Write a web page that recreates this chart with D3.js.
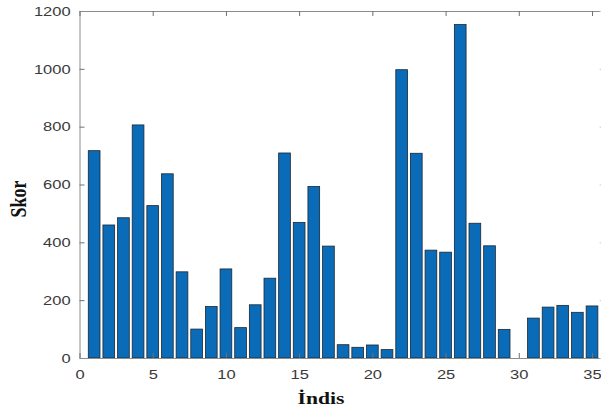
<!DOCTYPE html>
<html>
<head>
<meta charset="utf-8">
<script src="https://cdn.jsdelivr.net/npm/d3@7"></script>
<style>
  body { margin: 0; background: #fff; overflow: hidden; }
  svg { display: block; }
</style>
</head>
<body>
<div id="chart"></div>
<script>
// bar indices and the score
const indices = d3.range(1, 36);
const scores = [
  717, 460, 485, 806, 527, 637, 298, 100, 178, 308,
  105, 184, 276, 709, 469, 593, 387, 46, 37, 45,
  29, 997, 708, 373, 366, 1153, 466, 388, 99, 0,
  138, 176, 182, 158, 180
];
const yTicks = [0, 200, 400, 600, 800, 1000, 1200];
const xTicks = [0, 5, 10, 15, 20, 25, 30, 35];

const WIDTH = 601, HEIGHT = 415;
const STRETCH = 1.27; // the source picture is stretched sideways

const svg = d3.select("#chart").append("svg")
  .attr("width", WIDTH)
  .attr("height", HEIGHT);

const x = d3.scaleLinear().domain([0, 36]).range([79.5, 79.5 + 36 * 14.643]);
const y = d3.scaleLinear().domain([0, 1200]).range([358, 11]);

// bars
const barW = x(0.8) - x(0);
svg.append("g")
  .selectAll("rect")
  .data(indices)
  .enter()
  .append("rect")
  .attr("x", (d) => x(d) - barW / 2)
  .attr("y", (d, i) => y(scores[i]))
  .attr("width", barW)
  .attr("height", (d, i) => y(0) - y(scores[i]))
  .attr("fill", "#0a6cb8")
  .attr("stroke", "#1c2630")
  .attr("stroke-width", 0.8);

function styleAxis(g) {
  g.select(".domain").attr("stroke", "#8c8c8c").attr("stroke-width", 1);
  g.selectAll(".tick line").attr("stroke", "#707070");
  g.selectAll(".tick text")
    .attr("fill", "#3a3a3a")
    .style("font-family", "'Liberation Sans', Arial, sans-serif")
    .style("font-size", "13px");
}

// left axis, ticks pointing inward
const left = svg.append("g")
  .attr("transform", `translate(${x(0)},0)`)
  .call(d3.axisLeft(y).tickValues(yTicks).tickFormat(d3.format("d"))
    .tickSizeInner(-5).tickSizeOuter(0).tickPadding(7))
  .call(styleAxis);
left.selectAll(".tick text")
  .attr("transform", `scale(${STRETCH},1)`);

// bottom axis
const bottom = svg.append("g")
  .attr("transform", `translate(0,${y(0)})`)
  .call(d3.axisBottom(x).tickValues(xTicks).tickFormat(d3.format("d"))
    .tickSizeInner(-5).tickSizeOuter(0).tickPadding(12))
  .call(styleAxis);
bottom.selectAll(".tick text")
  .attr("transform", `scale(${STRETCH},1)`);

// top edge of the box, with ticks but no labels
svg.append("g")
  .attr("transform", `translate(0,${y(1200)})`)
  .call(d3.axisTop(x).tickValues(xTicks).tickSizeInner(-5).tickSizeOuter(0).tickFormat(""))
  .call(styleAxis);

// right edge sits just past the picture; only the tick tips show
svg.append("g")
  .attr("transform", `translate(${x(36)},0)`)
  .call(d3.axisRight(y).tickValues(yTicks).tickSizeInner(-7).tickSizeOuter(0).tickFormat(""))
  .call(styleAxis)
  .call((g) => g.selectAll(".tick line").attr("stroke", "#c8c8c8"));

// axis titles
svg.append("text")
  .attr("transform", `translate(321,404) scale(${STRETCH},1)`)
  .attr("text-anchor", "middle")
  .style("font-family", "'Liberation Serif', 'Times New Roman', serif")
  .style("font-weight", "bold")
  .style("font-size", "17px")
  .attr("fill", "#111")
  .text("İndis");

svg.append("text")
  .attr("transform", `translate(26,199) scale(${STRETCH},1) rotate(-90)`)
  .attr("text-anchor", "middle")
  .style("font-family", "'Liberation Serif', 'Times New Roman', serif")
  .style("font-weight", "bold")
  .style("font-size", "18px")
  .attr("fill", "#111")
  .text("Skor");
</script>
</body>
</html>
